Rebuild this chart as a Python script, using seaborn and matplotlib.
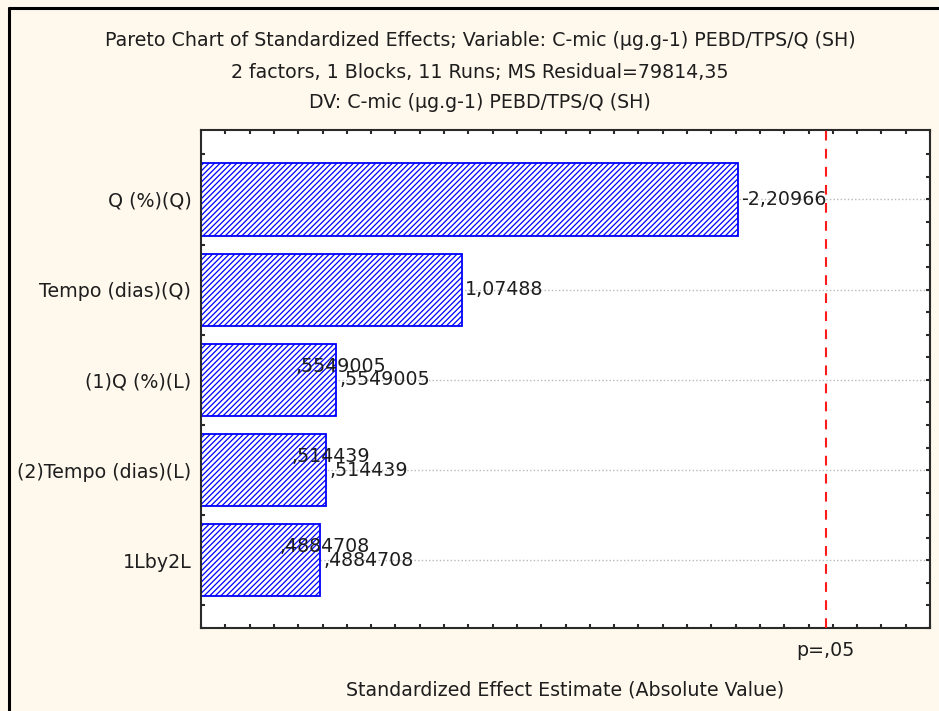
import matplotlib
matplotlib.use("Agg")
import matplotlib.pyplot as plt
from matplotlib.lines import Line2D
from matplotlib.ticker import MultipleLocator, FixedLocator
import seaborn as sns
import pandas as pd
import numpy as np

# Effects, ordered from largest to smallest absolute standardized estimate
effects = ["Q (%)(Q)", "Tempo (dias)(Q)", "(1)Q (%)(L)", "(2)Tempo (dias)(L)", "1Lby2L"]
estimates = [-2.20966, 1.07488, 0.5549005, 0.514439, 0.4884708]
value_labels = ["-2,20966", "1,07488", ",5549005", ",514439", ",4884708"]
# Smaller effects carry a second, overlapping copy of their label
double_label = [False, False, True, True, True]
t_crit = 2.5706  # p = .05, 5 df residual

title_lines = [
    "Pareto Chart of Standardized Effects; Variable: C-mic (µg.g-1) PEBD/TPS/Q (SH)",
    "2 factors, 1 Blocks, 11 Runs; MS Residual=79814,35",
    "DV: C-mic (µg.g-1) PEBD/TPS/Q (SH)",
]
x_title = "Standardized Effect Estimate (Absolute Value)"
p_label = "p=,05"

df = pd.DataFrame({"effect": effects, "abs_effect": np.abs(estimates)})

sns.set_theme(style="white")
plt.rcParams["font.family"] = ["DejaVu Sans"]
plt.rcParams["hatch.color"] = "#1010ff"
plt.rcParams["hatch.linewidth"] = 0.9
plt.rcParams["lines.scale_dashes"] = False

bg = "#FFF8EC"
txt = "#1e1e1e"
fs = 13.7

fig = plt.figure(figsize=(9.39, 7.11), dpi=100, facecolor=bg)
ax = fig.add_axes([201 / 939, 1 - 628 / 711, (930 - 201) / 939, (628 - 130) / 711])
ax.set_facecolor("white")

# dotted guide lines through each effect
for i in range(len(effects)):
    ax.axhline(i, color="#b8b8b8", linestyle=(0, (1, 1.6)), linewidth=1.0, zorder=0)

sns.barplot(data=df, x="abs_effect", y="effect", orient="h", order=effects,
            color="white", saturation=1, edgecolor="#0000ff", linewidth=1.3,
            width=0.8, ax=ax, zorder=2)
for p in ax.patches:
    p.set_hatch("//////")
    p.set_edgecolor("#0000ff")

ax.axvline(t_crit, color="#ff1a1a", linewidth=1.5, dashes=(7, 6), zorder=3)

ax.set_xlim(0, 3.0)
ax.set_ylim(4.75, -0.77)

for i, (v, lab, dbl) in enumerate(zip(np.abs(estimates), value_labels, double_label)):
    ax.annotate(lab, xy=(v, i), xytext=(2 if not dbl else 2.5, 0), textcoords="offset points",
                ha="left", va="center", fontsize=fs, color=txt, zorder=4)
    if dbl:
        ax.annotate(lab, xy=(v, i), xytext=(3.5, 10), textcoords="offset points",
                    ha="center", va="center", fontsize=fs, color=txt, zorder=4)

# axis styling
for s in ax.spines.values():
    s.set_visible(True)
    s.set_color("#2a2a2a")
    s.set_linewidth(1.5)

ax.xaxis.set_major_locator(MultipleLocator(0.1))
ax.xaxis.set_major_formatter(plt.NullFormatter())
ax.tick_params(axis="x", which="both", direction="in", length=3, width=1.5,
               color="#2a2a2a", top=True, bottom=True, labelbottom=False)
ax.yaxis.set_minor_locator(FixedLocator(np.arange(-0.5, 4.76, 0.25)))
ax.tick_params(axis="y", which="major", direction="in", length=3, width=1.5,
               color="#2a2a2a", left=True, right=True, labelsize=fs,
               labelcolor=txt, pad=7)
ax.tick_params(axis="y", which="minor", direction="in", length=3, width=1.5,
               color="#2a2a2a", left=True, right=True)
ax.set_ylabel("")
ax.set_xlabel("")

# titles and axis captions
for y, line in zip([1 - 40 / 711, 1 - 72 / 711, 1 - 102 / 711], title_lines):
    fig.text(480 / 939, y, line, ha="center", va="center", fontsize=fs, color=txt)
fig.text(565 / 939, 1 - 690 / 711, x_title, ha="center", va="center", fontsize=fs, color=txt)
ax.text(t_crit, -0.045, p_label, transform=ax.get_xaxis_transform(),
        ha="center", va="center", fontsize=fs, color=txt)

# frame edge on the left and top of the canvas
fig.add_artist(Line2D([9 / 939, 9 / 939], [0, 1 - 8 / 711], transform=fig.transFigure,
                      color="black", linewidth=2.2))
fig.add_artist(Line2D([9 / 939, 1], [1 - 8 / 711, 1 - 8 / 711], transform=fig.transFigure,
                      color="black", linewidth=2.2))

fig.savefig("out.png", dpi=100, facecolor=bg)
